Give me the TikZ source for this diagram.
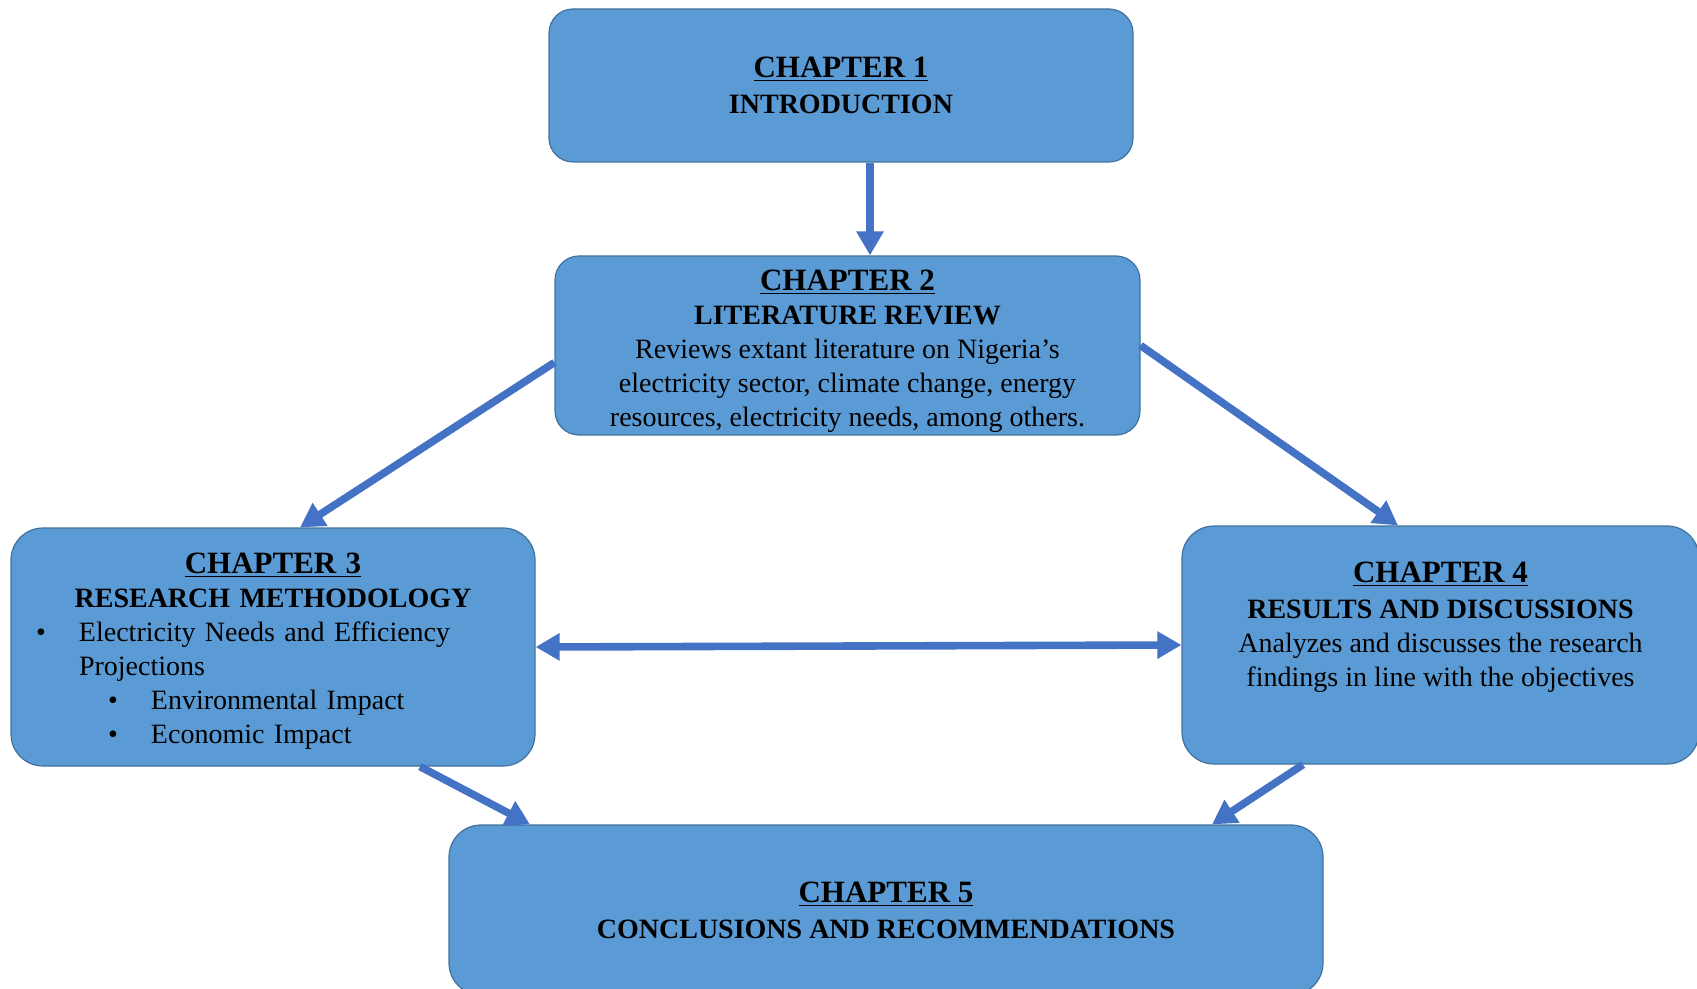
\documentclass[tikz,border=0pt]{standalone}
\usepackage{fontspec}
\setmainfont{Liberation Serif}
\usepackage{tikz}
\usetikzlibrary{shapes,arrows.meta,positioning}
\definecolor{boxblue}{RGB}{91,155,213}
\definecolor{boxline}{RGB}{65,113,156}
\definecolor{arrowblue}{RGB}{68,114,196}
\newcommand{\chead}[1]{{\fontsize{15.5}{18}\selectfont\bfseries\underline{#1}}}
\newcommand{\bul}{\makebox[21.5pt][l]{\textbullet}}
\tikzstyle{chap} = [rectangle, rounded corners=12pt, draw=boxline, line width=0.6pt, fill=boxblue, text=black, align=center, font=\fontsize{14}{17}\selectfont, inner sep=2pt]
\tikzstyle{flow} = [draw=arrowblue, line width=3.8pt, -{Triangle[width=13pt,length=12pt]}]
\tikzstyle{twoflow} = [draw=arrowblue, line width=3.8pt, {Triangle[width=13pt,length=12pt]}-{Triangle[width=13pt,length=12pt]}]

\begin{document}
\begin{tikzpicture}[x=0.5pt, y=-0.5pt]
\useasboundingbox (0,0) rectangle (1697,989);

% chapters =============================

\node[chap, minimum width=292pt, minimum height=76.5pt] (ch1) at (841,85.5) {\chead{CHAPTER 1}\\[1pt] \textbf{INTRODUCTION}};

\node[chap, inner ysep=0pt, minimum width=292.5pt, minimum height=89.5pt] (ch2) at (847.5,345.5) {\rule{0pt}{16.3pt}\chead{CHAPTER 2}\\[0pt] \textbf{LITERATURE REVIEW}\\ Reviews extant literature on Nigeria’s\\ electricity sector, climate change, energy\\ resources, electricity needs, among others.};

\node[chap, rounded corners=16pt, align=left, text width=262pt, inner xsep=0pt, minimum height=119pt] (ch3) at (273,647) {\makebox[\hsize][c]{\rule{0pt}{14.3pt}\chead{CHAPTER 3}}\\[0pt]
\makebox[\hsize][c]{\textbf{RESEARCH METHODOLOGY}}\\
\hspace*{12.5pt}\bul Electricity Needs and Efficiency\\
\hspace*{34pt}Projections\\
\hspace*{48.5pt}\bul Environmental Impact\\
\hspace*{48.5pt}\bul Economic Impact};

\node[chap, rounded corners=16pt, minimum width=258.5pt, minimum height=119pt] (ch4) at (1440.5,645) {\chead{CHAPTER 4}\\[1pt] \textbf{RESULTS AND DISCUSSIONS}\\ Analyzes and discusses the research\\ findings in line with the objectives\\[4pt]\mbox{}};

\node[chap, rounded corners=16pt, minimum width=437pt, minimum height=85pt] (ch5) at (886,910) {\chead{CHAPTER 5}\\[1pt] \textbf{CONCLUSIONS AND RECOMMENDATIONS}};

% edges =============================

\path[flow] ([xshift=14.5pt]ch1.south) -- ([xshift=11.25pt]ch2.north);

\path[flow] ([yshift=-8.5pt]ch2.west) -- ([xshift=13.5pt]ch3.north);
\path[flow] (ch2.east) -- ([xshift=-21.25pt]ch4.north);

\path[twoflow] (ch3.east) -- (ch4.west);

\path[flow] ([xshift=73.5pt]ch3.south) -- ([xshift=-178pt]ch5.north);
\path[flow] ([xshift=-68.75pt]ch4.south) -- ([xshift=163pt]ch5.north);

\end{tikzpicture}
\end{document}
